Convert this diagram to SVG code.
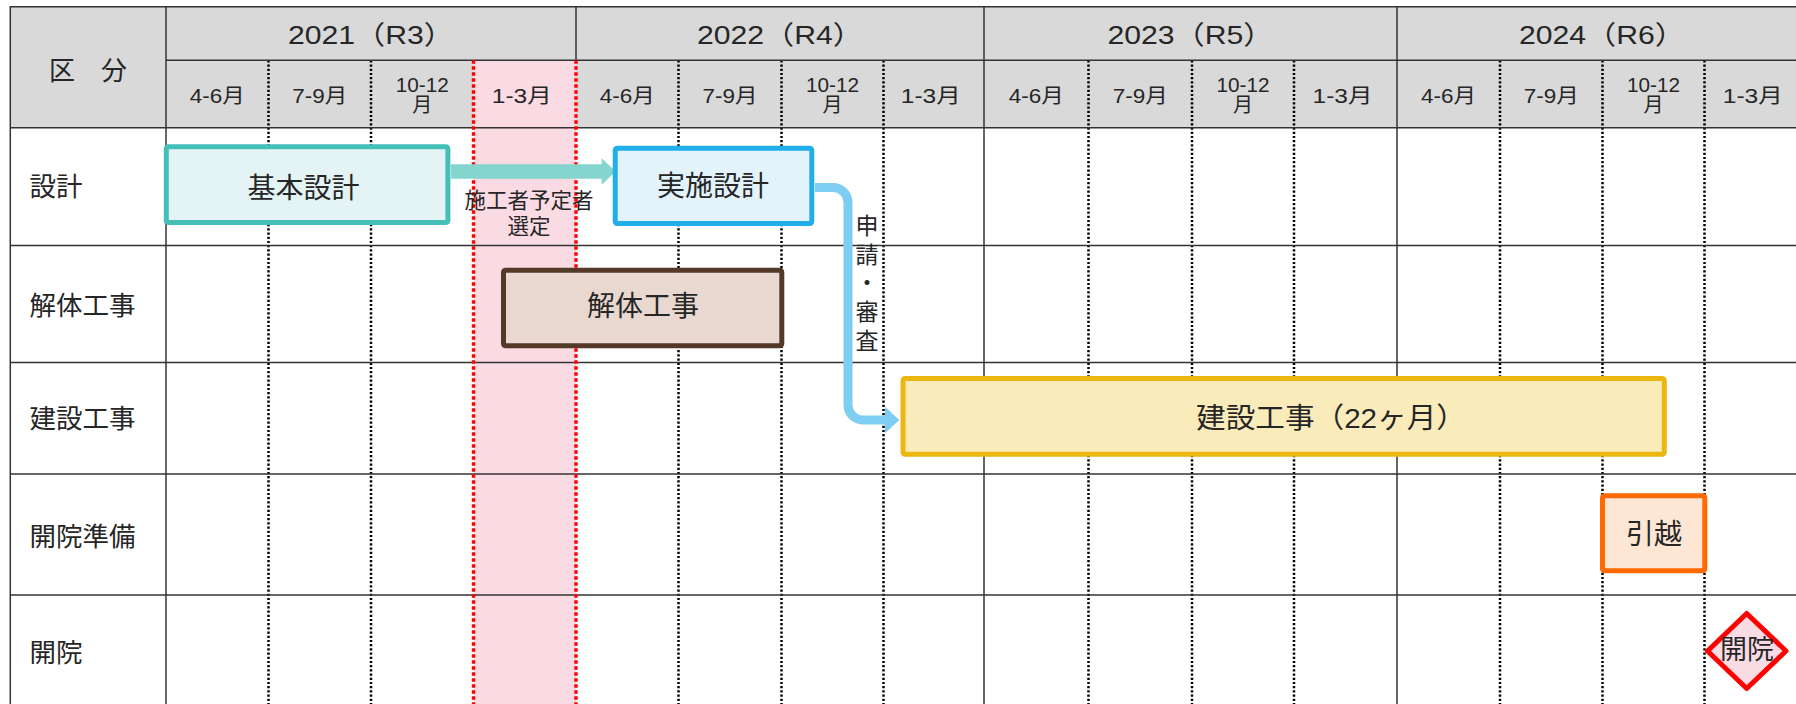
<svg xmlns="http://www.w3.org/2000/svg" width="1796" height="704" viewBox="0 0 1796 704">
<style>
.t{font-family:"Liberation Sans","Noto Sans CJK JP",sans-serif;fill:#262626;dominant-baseline:central;}
.yr{font-size:26px;text-anchor:middle;}
.q{font-size:20px;text-anchor:middle;}
.lb{font-size:26.5px;}
.bx{font-size:28px;text-anchor:middle;}
.grid{stroke:#333;stroke-width:1.5;fill:none;}
.dot{stroke:#000;stroke-width:2.5;stroke-dasharray:2.2 2;fill:none;}
.rdot{stroke:#FF0000;stroke-width:3.4;stroke-dasharray:3.4 2.6;fill:none;}
.node{stroke-width:5;stroke-linejoin:round;}
</style>
<rect x="0" y="0" width="1796" height="704" fill="#FFFFFF"/>
<g id="table">
<rect x="10.3" y="6.7" width="1790" height="121" fill="#D9D9D9"/>
<rect x="473.5" y="60.3" width="102.5" height="650" fill="#FADBE4"/>
<g class="dot">
<line x1="268.5" y1="60.3" x2="268.5" y2="704"/>
<line x1="371" y1="60.3" x2="371" y2="704"/>
<line x1="678.5" y1="60.3" x2="678.5" y2="704"/>
<line x1="781.5" y1="60.3" x2="781.5" y2="704"/>
<line x1="883.5" y1="60.3" x2="883.5" y2="704"/>
<line x1="1088.5" y1="60.3" x2="1088.5" y2="704"/>
<line x1="1192" y1="60.3" x2="1192" y2="704"/>
<line x1="1294" y1="60.3" x2="1294" y2="704"/>
<line x1="1500" y1="60.3" x2="1500" y2="704"/>
<line x1="1602.5" y1="60.3" x2="1602.5" y2="704"/>
<line x1="1704.5" y1="60.3" x2="1704.5" y2="704"/>
</g>
<g class="grid">
<line x1="10.3" y1="6.7" x2="1796" y2="6.7"/>
<line x1="166" y1="60.3" x2="1796" y2="60.3"/>
<line x1="10.3" y1="127.7" x2="1796" y2="127.7"/>
<line x1="10.3" y1="245.5" x2="1796" y2="245.5"/>
<line x1="10.3" y1="362.5" x2="1796" y2="362.5"/>
<line x1="10.3" y1="474" x2="1796" y2="474"/>
<line x1="10.3" y1="595" x2="1796" y2="595"/>
<line x1="10.3" y1="6" x2="10.3" y2="704"/>
<line x1="166" y1="6" x2="166" y2="704"/>
<line x1="576" y1="6" x2="576" y2="60.3"/>
<line x1="984" y1="6" x2="984" y2="704"/>
<line x1="1397" y1="6" x2="1397" y2="704"/>
</g>
<g class="rdot">
<line x1="473.5" y1="60.3" x2="473.5" y2="704"/>
<line x1="576" y1="60.3" x2="576" y2="704"/>
</g>
<text class="t" x="88" y="71" font-size="26" text-anchor="middle">区　分</text>
<text class="t yr" x="371" y="35" textLength="166" lengthAdjust="spacingAndGlyphs">2021（R3）</text>
<text class="t yr" x="780" y="35" textLength="166" lengthAdjust="spacingAndGlyphs">2022（R4）</text>
<text class="t yr" x="1190.5" y="35" textLength="166" lengthAdjust="spacingAndGlyphs">2023（R5）</text>
<text class="t yr" x="1602" y="35" textLength="166" lengthAdjust="spacingAndGlyphs">2024（R6）</text>
<g class="t q">
<text x="217.25" y="96" textLength="55" lengthAdjust="spacingAndGlyphs">4-6月</text>
<text x="319.75" y="96" textLength="55" lengthAdjust="spacingAndGlyphs">7-9月</text>
<text x="422.25" y="85" textLength="53" lengthAdjust="spacingAndGlyphs">10-12</text>
<text x="422.25" y="105">月</text>
<text x="521.75" y="96" textLength="60" lengthAdjust="spacingAndGlyphs">1-3月</text>
<text x="627.25" y="96" textLength="55" lengthAdjust="spacingAndGlyphs">4-6月</text>
<text x="730" y="96" textLength="55" lengthAdjust="spacingAndGlyphs">7-9月</text>
<text x="832.5" y="85" textLength="53" lengthAdjust="spacingAndGlyphs">10-12</text>
<text x="832.5" y="105">月</text>
<text x="930.75" y="96" textLength="60" lengthAdjust="spacingAndGlyphs">1-3月</text>
<text x="1036.25" y="96" textLength="55" lengthAdjust="spacingAndGlyphs">4-6月</text>
<text x="1140.25" y="96" textLength="55" lengthAdjust="spacingAndGlyphs">7-9月</text>
<text x="1243" y="85" textLength="53" lengthAdjust="spacingAndGlyphs">10-12</text>
<text x="1243" y="105">月</text>
<text x="1342.5" y="96" textLength="60" lengthAdjust="spacingAndGlyphs">1-3月</text>
<text x="1448.5" y="96" textLength="55" lengthAdjust="spacingAndGlyphs">4-6月</text>
<text x="1551.25" y="96" textLength="55" lengthAdjust="spacingAndGlyphs">7-9月</text>
<text x="1653.5" y="85" textLength="53" lengthAdjust="spacingAndGlyphs">10-12</text>
<text x="1653.5" y="105">月</text>
<text x="1752.75" y="96" textLength="60" lengthAdjust="spacingAndGlyphs">1-3月</text>
</g>
<g class="t lb">
<text x="29.5" y="187">設計</text>
<text x="29.5" y="305.5">解体工事</text>
<text x="29.5" y="419">建設工事</text>
<text x="29.5" y="537">開院準備</text>
<text x="29.5" y="653">開院</text>
</g>
</g>
<g id="connectors">
<path d="M451,164.3 H601.7 V158.3 L615.7,171.5 L601.7,184.7 V178.7 H451 Z" fill="#84D5CD"/>
<path d="M815,187.5 H833 A15,15 0 0 1 848,202.5 V405 A15,15 0 0 0 863,420 H887" fill="none" stroke="#7ECEF4" stroke-width="9"/>
<path d="M885,406.7 L899.3,420 L885,433.3 Z" fill="#7ECEF4"/>
<text class="t" x="529" y="201" font-size="21.5" text-anchor="middle">施工者予定者</text>
<text class="t" x="529" y="227" font-size="21.5" text-anchor="middle">選定</text>
<g class="t" font-size="23" text-anchor="middle">
<text x="867" y="226">申</text>
<text x="867" y="255">請</text>
<text x="867" y="283">・</text>
<text x="867" y="312">審</text>
<text x="867" y="340.5">査</text>
</g>
</g>
<g id="node-kihon">
<rect class="node" x="166.3" y="146.8" width="281.6" height="75.7" rx="2" fill="#E4F4F4" stroke="#45BFB7"/>
<text class="t bx" x="303.5" y="188">基本設計</text>
</g>
<g id="node-jisshi">
<rect class="node" x="615.2" y="148.2" width="196.6" height="75.3" rx="2" fill="#E2F3FC" stroke="#22AEEA"/>
<text class="t bx" x="713" y="186.5">実施設計</text>
</g>
<g id="node-kaitai">
<rect class="node" x="503.5" y="270.2" width="278.3" height="75.6" rx="2" fill="#E8D8CF" stroke="#543927"/>
<text class="t bx" x="643" y="306.5">解体工事</text>
</g>
<g id="node-kensetsu">
<rect class="node" x="903" y="378.5" width="761.3" height="75.7" rx="2" fill="#FAEBBB" stroke="#EDB712"/>
<text class="t" x="1196" y="418" font-size="28" textLength="270" lengthAdjust="spacingAndGlyphs">建設工事（22ヶ月）</text>
</g>
<g id="node-hikkoshi">
<rect class="node" x="1602.5" y="495.8" width="102.3" height="75" rx="2" fill="#FDE6D3" stroke="#FF6A00"/>
<text class="t bx" x="1654" y="534.5">引越</text>
</g>
<g id="node-kaiin">
<polygon class="node" points="1707.5,651 1746.7,613.5 1786,651 1746.7,688.5" fill="#F9DBE4" stroke="#FF0000" stroke-linejoin="miter"/>
<text class="t" x="1747" y="649.5" font-size="27" text-anchor="middle">開院</text>
</g>
</svg>
